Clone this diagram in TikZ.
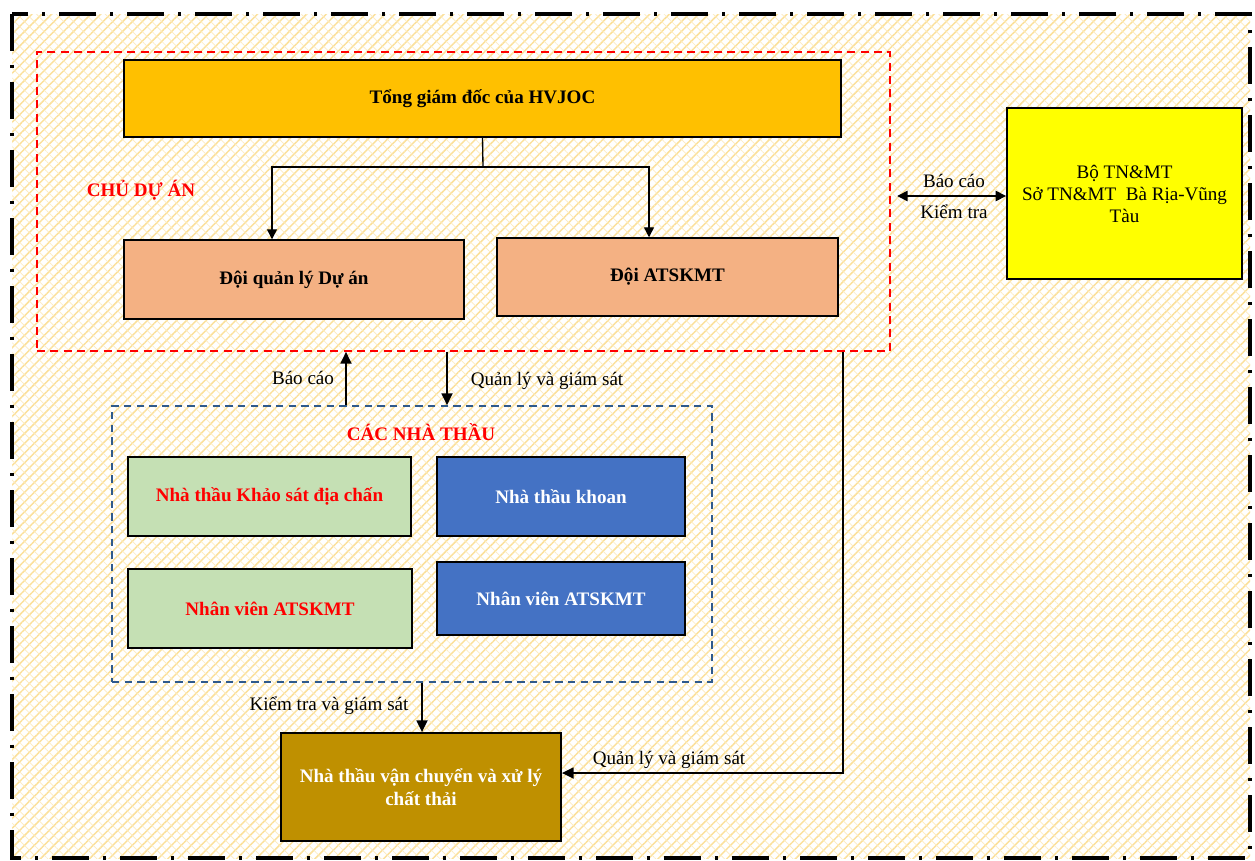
\documentclass[tikz,border=0pt]{standalone}
\usepackage{fontspec}
\setmainfont{Liberation Serif}
\usetikzlibrary{arrows.meta,patterns.meta}

\definecolor{bgline}{HTML}{FBE09A}
\definecolor{bgline2}{HTML}{FDEBBE}
\definecolor{ceo}{HTML}{FFC000}
\definecolor{team}{HTML}{F4B183}
\definecolor{gov}{HTML}{FFFF00}
\definecolor{greenbox}{HTML}{C5E0B4}
\definecolor{bluebox}{HTML}{4472C4}
\definecolor{brownbox}{HTML}{BF9000}
\definecolor{groupblue}{HTML}{2F5A8C}

\tikzset{
  every node/.style={font=\fontsize{14.3}{16.5}\selectfont},
  box/.style={draw=black, line width=1.1pt, inner sep=2pt, align=center,
              font=\fontsize{14.3}{17}\selectfont\bfseries},
  group/.style={inner sep=0pt},
  lbl/.style={inner sep=0pt, text=black},
  thinarr/.style={draw=black, line width=1pt, -{Triangle[length=7.5pt,width=7.5pt]}},
  arr/.style={draw=black, line width=2pt, -{Triangle[length=9pt,width=8pt]}},
  dblarr/.style={draw=black, line width=2pt, {Triangle[length=8pt,width=7.5pt]}-{Triangle[length=8pt,width=7.5pt]}}
}

\begin{document}
\begin{tikzpicture}[x=0.75pt,y=-0.75pt]
\useasboundingbox (0,0) rectangle (1255,860);

% woven background inside the frame
\fill[white] (12,14) rectangle (1250,858);
\fill[pattern={Lines[angle=45,distance=5.2pt,line width=1.1pt]}, pattern color=bgline]
  (12,14) rectangle (1250,858);
\fill[pattern={Lines[angle=-45,distance=5.2pt,line width=0.5pt]}, pattern color=bgline2]
  (12,14) rectangle (1250,858);

% outer dash-dot frame
\draw[line width=3pt, dash pattern=on 28pt off 10pt on 2.5pt off 10.5pt]
  (12,14) rectangle (1250,858);

% project owner group
\node[group, draw=red, line width=1pt, dash pattern=on 6pt off 4pt,
      minimum width=639.75pt, minimum height=224.25pt] (owner) at (463.5,201.5) {};
\node[lbl, text=red, font=\fontsize{14.3}{16.5}\selectfont\bfseries] (ownerlbl) at (141,190) {CHỦ DỰ ÁN};

% contractors group
\node[group, draw=groupblue, line width=1pt, dash pattern=on 5.5pt off 4pt,
      minimum width=450pt, minimum height=207pt] (cont) at (412,544) {};
\node[lbl, text=red, font=\fontsize{14.3}{16.5}\selectfont\bfseries] (contlbl) at (421,432) {CÁC NHÀ THẦU};

% boxes
\node[box, fill=ceo, minimum width=537.75pt, minimum height=57.75pt] (ceo) at (482.5,98.5) {Tổng giám đốc của HVJOC};
\node[box, fill=team, minimum width=255pt, minimum height=59.25pt] (pm) at (294,279.5) {Đội quản lý Dự án};
\node[box, fill=team, minimum width=255.75pt, minimum height=58.5pt] (hse) at (667.5,277) {Đội ATSKMT};
\node[box, fill=gov, font=\fontsize{14.3}{16.5}\selectfont, minimum width=176.25pt, minimum height=128.25pt] (gov) at (1124.5,193.5)
  {Bộ TN\&MT\\Sở TN\&MT\ \ Bà Rịa-Vũng\\Tàu};
\node[box, fill=greenbox, text=red, minimum width=212.25pt, minimum height=59.25pt] (seis) at (269.5,496.5) {Nhà thầu Khảo sát địa chấn};
\node[box, fill=greenbox, text=red, minimum width=213pt, minimum height=59.25pt] (seisstaff) at (270,608.5) {Nhân viên ATSKMT};
\node[box, fill=bluebox, text=white, minimum width=186pt, minimum height=59.25pt] (drill) at (561,496.5) {Nhà thầu khoan};
\node[box, fill=bluebox, text=white, minimum width=186pt, minimum height=54.75pt] (drillstaff) at (561,598.5) {Nhân viên ATSKMT};
\node[box, fill=brownbox, text=white, font=\fontsize{14.3}{17.5}\selectfont\bfseries, minimum width=210pt, minimum height=81pt] (waste) at (421,787)
  {Nhà thầu vận chuyển và xử lý\\chất thải};

% tree under the general director
\coordinate (split) at (483,167);
\draw[line width=1pt] (ceo.south) -- (split);
\draw[thinarr] (split) -| (pm.north -| 272,0);
\draw[thinarr] (split) -| (hse.north -| 649,0);

% reporting to the ministry
\coordinate (govleft) at (897,196);
\draw[dblarr] (govleft) -- (gov.west |- govleft);
\node[lbl] (l1) at (954,181) {Báo cáo};
\node[lbl] (l2) at (954,212) {Kiểm tra};

% between the owner and the contractors
\draw[arr] (cont.north -| 346,0) -- (owner.south -| 346,0);
\node[lbl] (l3) at (303,378) {Báo cáo};
\draw[arr] (owner.south -| 447,0) -- (cont.north -| 447,0);
\node[lbl] (l4) at (547,381) {Quản lý và giám sát};

% contractors to the waste contractor
\draw[arr] (cont.south -| 422,0) -- (waste.north -| 422,0);
\node[lbl] (l5) at (329,706) {Kiểm tra và giám sát};

% owner to the waste contractor
\coordinate (bend) at (843,773);
\draw[arr] (owner.south -| bend) -- (bend) -- (waste.east |- bend);
\node[lbl] (l6) at (669,760) {Quản lý và giám sát};

\end{tikzpicture}
\end{document}
